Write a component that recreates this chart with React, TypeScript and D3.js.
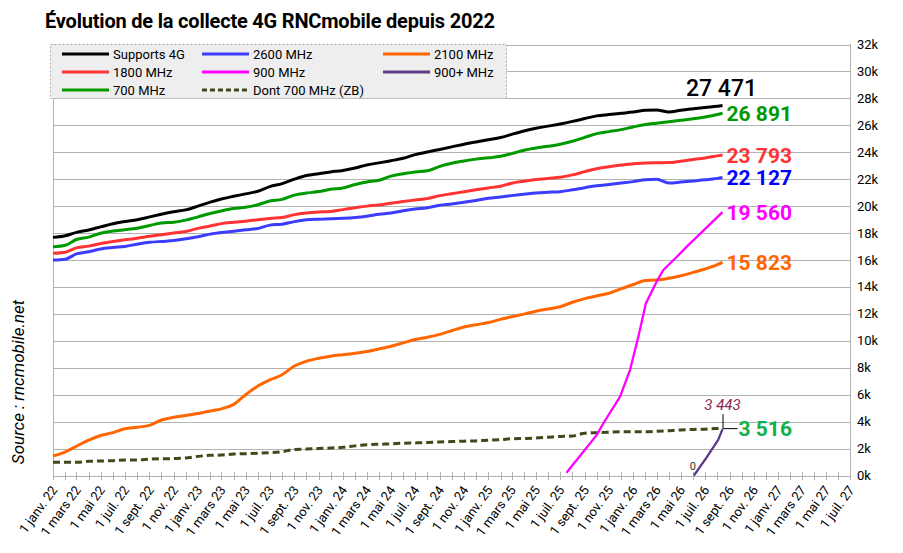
import { useEffect, useRef } from "react";
import * as d3 from "d3";

// monthly samples, 1 janv. 22 -> 1 août 26, then the last point (14 août 26)
const monthStarts = d3.timeMonth.range(new Date(2022, 0, 1), new Date(2026, 7, 2));
const lastDate = new Date(2026, 7, 14);
const dates = [...monthStarts, lastDate];

const supports4G = [
  17680, 17800, 18050, 18230, 18460, 18690, 18860, 18990, 19200, 19400,
  19580, 19720, 20000, 20300, 20530, 20730, 20910, 21100, 21450, 21670,
  22000, 22270, 22410, 22540, 22650, 22830, 23060, 23210, 23370, 23550,
  23820, 24020, 24210, 24400, 24600, 24760, 24930, 25090, 25330, 25580,
  25780, 25940, 26100, 26290, 26500, 26700, 26800, 26890, 26980, 27120,
  27140, 26990, 27120, 27230, 27330, 27420, 27471,
];
const mhz700 = [
  16990, 17100, 17520, 17700, 17990, 18150, 18250, 18360, 18560, 18750,
  18810, 18960, 19200, 19450, 19640, 19820, 19910, 20100, 20380, 20500,
  20820, 20970, 21080, 21250, 21350, 21600, 21790, 21920, 22230, 22400,
  22540, 22620, 22950, 23180, 23350, 23490, 23590, 23700, 23900, 24150,
  24320, 24440, 24590, 24820, 25100, 25380, 25530, 25680, 25880, 26060,
  26160, 26270, 26370, 26480, 26620, 26800, 26891,
];
const mhz1800 = [
  16500, 16580, 16900, 17030, 17220, 17380, 17500, 17620, 17760, 17880,
  18000, 18110, 18350, 18520, 18700, 18800, 18880, 18980, 19090, 19150,
  19370, 19490, 19560, 19600, 19740, 19880, 20000, 20080, 20220, 20340,
  20460, 20570, 20780, 20920, 21070, 21210, 21350, 21480, 21700, 21850,
  21970, 22060, 22140, 22320, 22560, 22780, 22920, 23050, 23140, 23210,
  23220, 23230, 23340, 23460, 23580, 23730, 23793,
];
const mhz2600 = [
  16000, 16060, 16450, 16610, 16820, 16930, 17010, 17170, 17310, 17380,
  17440, 17570, 17720, 17920, 18040, 18140, 18240, 18340, 18590, 18660,
  18850, 18980, 19030, 19060, 19100, 19160, 19250, 19390, 19490, 19650,
  19780, 19880, 20070, 20160, 20290, 20420, 20580, 20680, 20780, 20880,
  20980, 21030, 21070, 21210, 21370, 21510, 21610, 21710, 21820, 21960,
  21990, 21720, 21790, 21870, 21950, 22060, 22127,
];
const mhz2100 = [
  1450, 1760, 2170, 2630, 2970, 3180, 3470, 3580, 3720, 4120,
  4320, 4450, 4600, 4790, 4950, 5280, 6000, 6640, 7100, 7480,
  8130, 8480, 8700, 8860, 8970, 9070, 9210, 9400, 9600, 9850,
  10100, 10260, 10480, 10750, 11030, 11190, 11360, 11590, 11790, 11980,
  12200, 12360, 12530, 12860, 13130, 13330, 13530, 13850, 14180, 14480,
  14510, 14640, 14830, 15080, 15330, 15650, 15823,
];
const mhz700ZB = [
  980, 980, 980, 1060, 1075, 1100, 1150, 1150, 1210, 1240,
  1260, 1300, 1420, 1500, 1520, 1590, 1620, 1650, 1700, 1770,
  1930, 1960, 2000, 2040, 2090, 2200, 2280, 2320, 2350, 2400,
  2420, 2450, 2490, 2520, 2550, 2570, 2620, 2660, 2730, 2750,
  2780, 2840, 2900, 2930, 3140, 3180, 3220, 3250, 3250, 3250,
  3280, 3330, 3380, 3420, 3440, 3490, 3516,
];

// 900 MHz and 900+ MHz start later, with their own dates
const mhz900Dates = [
  "2025-07-17", "2025-10-01", "2025-10-18", "2025-11-29", "2025-12-24",
  "2026-01-14", "2026-02-02", "2026-03-01", "2026-03-18", "2026-04-21",
  "2026-05-16", "2026-08-14",
];
const mhz900 = [200, 3000, 3880, 5850, 7830, 10300, 12780, 14390, 15260, 16240, 16990, 19560];
const mhz900PlusDates = ["2026-06-03", "2026-07-05", "2026-08-03", "2026-08-14"];
const mhz900Plus = [0, 1350, 2640, 3443];

const yTicks = d3.range(0, 32001, 2000);
const frMonths = ["janv.", "févr.", "mars", "avr.", "mai", "juin", "juil.", "août", "sept.", "oct.", "nov.", "déc."];

const FONT = "Roboto, 'Liberation Sans', Arial, sans-serif";

export default function App() {
  const svgRef = useRef<SVGSVGElement>(null);

  useEffect(() => {
    document.body.style.margin = "0";
    if (!svgRef.current) return;
    const svg = d3.select(svgRef.current);
    svg.selectAll("*").remove();

    const parse = d3.timeParse("%Y-%m-%d");
    const x = d3.scaleTime()
      .domain([new Date(2022, 0, 1), new Date(2027, 6, 1)])
      .range([53, 850]);
    const y = d3.scaleLinear().domain([0, 32000]).range([475.5, 44.5]);
    const snap = (v: number) => Math.round(v) + 0.5;

    svg.append("rect").attr("width", 903).attr("height", 553).attr("fill", "#fff");

    // title
    svg.append("text")
      .attr("x", 45).attr("y", 28)
      .attr("font-family", FONT).attr("font-size", 20).attr("font-weight", "bold")
      .attr("letter-spacing", -0.2)
      .text("Évolution de la collecte 4G RNCmobile depuis 2022");

    // grid
    svg.append("g").selectAll("line").data(yTicks).enter().append("line")
      .attr("x1", 53).attr("x2", 850)
      .attr("y1", d => snap(y(d))).attr("y2", d => snap(y(d)))
      .attr("stroke", "#b3b3b3").attr("stroke-width", 1);

    // right axis labels
    svg.append("g").selectAll("text").data(yTicks).enter().append("text")
      .attr("x", 857).attr("y", d => y(d))
      .attr("dy", "0.35em")
      .attr("font-family", FONT).attr("font-size", 13)
      .text(d => `${d / 1000}k`);

    // left/right vertical axis lines
    svg.append("line").attr("x1", 53.5).attr("x2", 53.5).attr("y1", 44).attr("y2", 480)
      .attr("stroke", "#b3b3b3");
    svg.append("line").attr("x1", 850.5).attr("x2", 850.5).attr("y1", 44).attr("y2", 476)
      .attr("stroke", "#b3b3b3");

    // x axis ticks and labels
    const monthTicks = d3.timeMonth.range(new Date(2022, 0, 1), new Date(2027, 6, 2));
    svg.append("g").selectAll("line").data(monthTicks).enter().append("line")
      .attr("x1", d => snap(x(d))).attr("x2", d => snap(x(d)))
      .attr("y1", 472).attr("y2", 480)
      .attr("stroke", "#b3b3b3");
    const labelTicks = monthTicks.filter(d => d.getMonth() % 2 === 0);
    svg.append("g").selectAll("text").data(labelTicks).enter().append("text")
      .attr("transform", d => `translate(${x(d) + 5},${490}) rotate(-54)`)
      .attr("text-anchor", "end")
      .attr("font-family", FONT).attr("font-size", 13)
      .text(d => `1 ${frMonths[d.getMonth()]} ${String(d.getFullYear()).slice(2)}`);

    // source
    svg.append("text")
      .attr("transform", "translate(24,382) rotate(-90)")
      .attr("text-anchor", "middle")
      .attr("font-family", FONT).attr("font-size", 17).attr("font-style", "italic")
      .text("Source : rncmobile.net");

    // series
    const series = [
      { key: "zb", d: dates, v: mhz700ZB, color: "#3f4a1a", w: 3, dash: "7,4", curve: d3.curveMonotoneX },
      { key: "2100", d: dates, v: mhz2100, color: "#ff6600", w: 3, dash: null, curve: d3.curveMonotoneX },
      { key: "900", d: mhz900Dates.map(s => parse(s)!), v: mhz900, color: "#ff00ff", w: 2.3, dash: null, curve: d3.curveLinear },
      { key: "900p", d: mhz900PlusDates.map(s => parse(s)!), v: mhz900Plus, color: "#5e3a86", w: 2.3, dash: null, curve: d3.curveLinear },
      { key: "2600", d: dates, v: mhz2600, color: "#3c3cff", w: 3, dash: null, curve: d3.curveMonotoneX },
      { key: "1800", d: dates, v: mhz1800, color: "#ff3333", w: 3, dash: null, curve: d3.curveMonotoneX },
      { key: "700", d: dates, v: mhz700, color: "#009900", w: 3, dash: null, curve: d3.curveMonotoneX },
      { key: "4g", d: dates, v: supports4G, color: "#000000", w: 3, dash: null, curve: d3.curveMonotoneX },
    ];
    series.forEach(s => {
      const pts = s.v.map((v, i) => [x(s.d[i]), y(v)] as [number, number]);
      svg.append("path")
        .attr("d", d3.line().curve(s.curve)(pts))
        .attr("fill", "none")
        .attr("stroke", s.color)
        .attr("stroke-width", s.w)
        .attr("stroke-dasharray", s.dash)
        .attr("stroke-linejoin", "round");
    });

    // end value labels
    const endX = x(lastDate);
    const endLabels = [
      { v: mhz700, color: "#009900" },
      { v: mhz1800, color: "#ff3333" },
      { v: mhz2600, color: "#0000ff" },
      { v: mhz900, color: "#ff00ff" },
      { v: mhz2100, color: "#ff6600" },
    ];
    const fmt = (n: number) => d3.format(",")(n).replace(/,/g, " ");
    endLabels.forEach(l => {
      const val = l.v[l.v.length - 1];
      svg.append("text")
        .attr("x", endX + 4).attr("y", y(val))
        .attr("dy", "0.36em")
        .attr("font-family", FONT).attr("font-size", 21).attr("font-weight", "bold")
        .attr("fill", l.color)
        .text(fmt(val));
    });
    const total = supports4G[supports4G.length - 1];
    svg.append("text")
      .attr("x", endX - 1).attr("y", y(total) - 9)
      .attr("text-anchor", "middle")
      .attr("font-family", FONT).attr("font-size", 23).attr("font-weight", 500)
      .text(fmt(total));

    // ZB / 900+ callout
    const zbEnd = mhz700ZB[mhz700ZB.length - 1];
    const plusEnd = mhz900Plus[mhz900Plus.length - 1];
    const cy = y(zbEnd);
    svg.append("line").attr("x1", endX + 0.5).attr("x2", endX + 0.5).attr("y1", cy - 14).attr("y2", cy)
      .attr("stroke", "#000");
    svg.append("line").attr("x1", endX).attr("x2", endX + 15).attr("y1", cy + 0.5).attr("y2", cy + 0.5)
      .attr("stroke", "#000");
    svg.append("text")
      .attr("x", endX + 16).attr("y", cy)
      .attr("dy", "0.36em")
      .attr("font-family", FONT).attr("font-size", 21).attr("font-weight", "bold")
      .attr("fill", "#13b04a")
      .text(fmt(zbEnd));
    svg.append("text")
      .attr("x", endX).attr("y", cy - 18)
      .attr("text-anchor", "middle")
      .attr("font-family", FONT).attr("font-size", 15).attr("font-style", "italic")
      .attr("fill", "#8b2552")
      .text(fmt(plusEnd));
    svg.append("text")
      .attr("x", x(parse(mhz900PlusDates[0])!) + 2).attr("y", 470)
      .attr("text-anchor", "end")
      .attr("font-family", FONT).attr("font-size", 11)
      .attr("fill", "#333")
      .text(String(mhz900Plus[0]));

    // legend
    const legend = svg.append("g");
    legend.append("rect")
      .attr("x", 50.5).attr("y", 44.5).attr("width", 456).attr("height", 54)
      .attr("fill", "#eeeeee").attr("stroke", "#aaaaaa").attr("stroke-dasharray", "2,2");
    const legendItems = [
      { label: "Supports 4G", color: "#000000", dash: null },
      { label: "2600 MHz", color: "#3c3cff", dash: null },
      { label: "2100 MHz", color: "#ff6600", dash: null },
      { label: "1800 MHz", color: "#ff3333", dash: null },
      { label: "900 MHz", color: "#ff00ff", dash: null },
      { label: "900+ MHz", color: "#5e3a86", dash: null },
      { label: "700 MHz", color: "#009900", dash: null },
      { label: "Dont 700 MHz (ZB)", color: "#3f4a1a", dash: "5,3" },
    ];
    const colX = [62, 202, 383];
    legendItems.forEach((it, i) => {
      const cx = colX[i % 3];
      const ry = 54 + Math.floor(i / 3) * 18;
      legend.append("line")
        .attr("x1", cx).attr("x2", cx + 47).attr("y1", ry).attr("y2", ry)
        .attr("stroke", it.color).attr("stroke-width", 3)
        .attr("stroke-dasharray", it.dash);
      legend.append("text")
        .attr("x", cx + 51).attr("y", ry).attr("dy", "0.36em")
        .attr("font-family", FONT).attr("font-size", 13)
        .text(it.label);
    });
  }, []);

  return <svg ref={svgRef} width={903} height={553} style={{ display: "block" }}></svg>;
}
